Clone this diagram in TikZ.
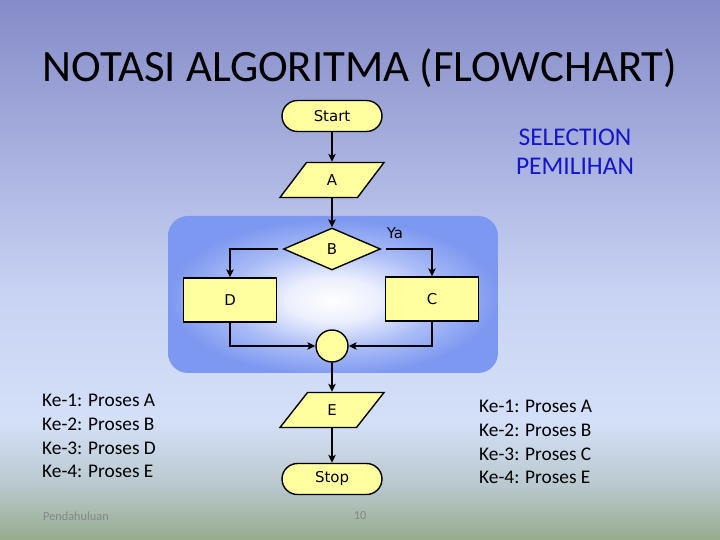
\documentclass[tikz,border=0pt]{standalone}
\usepackage{fontspec}
\setmainfont{Carlito}
\newfontfamily\chartfont{DejaVu Sans}
\usetikzlibrary{arrows.meta,shapes.geometric,shapes.misc}
\definecolor{bgtop}{RGB}{133,139,200}
\definecolor{bgmid}{RGB}{200,210,243}
\definecolor{bglow}{RGB}{212,224,248}
\definecolor{bgfade}{RGB}{185,200,205}
\definecolor{bgbot}{RGB}{150,172,140}
\definecolor{regionblue}{RGB}{125,152,240}
\definecolor{regionmid}{RGB}{200,212,252}
\definecolor{boxyellow}{RGB}{255,255,160}
\definecolor{selblue}{RGB}{20,20,200}
\definecolor{footgray}{RGB}{130,135,135}
\pgfdeclareverticalshading{slidebg}{100bp}{color(0bp)=(bgbot); color(25bp)=(bgbot); color(30bp)=(bgfade); color(36bp)=(bglow); color(48bp)=(bgmid); color(75bp)=(bgtop); color(100bp)=(bgtop)}
\pgfdeclareradialshading{regionglow}{\pgfpoint{0bp}{-2bp}}{color(0bp)=(white); color(7bp)=(white!85!regionblue); color(16bp)=(regionmid!60!regionblue); color(25bp)=(regionblue); color(50bp)=(regionblue)}

\begin{document}
\begin{tikzpicture}[
  x=0.02cm,y=-0.02cm,
  chartnode/.style={draw=black,line width=0.8pt,fill=boxyellow,inner sep=0pt,
               font=\chartfont\fontsize{8.5}{10}\selectfont},
  terminal/.style={chartnode,rounded rectangle,minimum width=2cm,minimum height=0.62cm},
  io/.style={chartnode,trapezium,trapezium left angle=64,trapezium right angle=116,
               trapezium stretches=true,minimum width=2.08cm,minimum height=0.7cm},
  decision/.style={chartnode,diamond,minimum width=1.94cm,minimum height=0.84cm},
  process/.style={chartnode,rectangle,minimum width=1.86cm,minimum height=0.88cm},
  joint/.style={chartnode,circle,minimum size=0.64cm},
  chartlabel/.style={font=\chartfont\fontsize{8.5}{10}\selectfont},
  titletext/.style={font=\fontsize{25.5}{30}\selectfont},
  seltext/.style={align=center,text=selblue,font=\fontsize{14.5}{16.6}\selectfont},
  listtext/.style={align=left,font=\fontsize{11}{13.6}\selectfont},
  footer/.style={text=footgray,font=\fontsize{7}{8}\selectfont},
  arr/.style={-{Stealth[length=4.5pt,width=4.2pt,inset=1pt]},line width=0.9pt}
]
% slide background
\shade[shading=slidebg] (0,0) rectangle (720,540);
\useasboundingbox (0,0) rectangle (720,540);
\shade[shading=regionglow,rounded corners=0.4cm] (168,216) rectangle (498,373);

\node[titletext] (title) at (360,68) {NOTASI ALGORITMA (FLOWCHART)};
\node[seltext] (sel) at (575,152) {SELECTION\\PEMILIHAN};

% flowchart
\node[terminal] (start) at (332,116) {Start};
\node[io] (a) at (332,180) {A};
\node[decision] (b) at (332,249) {B};
\node[process] (d) at (230,300) {D};
\node[process] (c) at (432,299) {C};
\node[joint] (j) at (332,346) {};
\node[io] (e) at (332,410) {E};
\node[terminal] (stop) at (332,479) {Stop};
\node[chartlabel] (ya) at (395,233) {Ya};

\draw[arr] (start) -- (a);
\draw[arr] (a) -- (b);
\draw[arr,shorten <=3pt] (b.west) -| (d.north);
\draw[arr,shorten <=3pt] (b.east) -| (c.north);
\draw[arr] (d.south) |- (j.west);
\draw[arr] (c.south) |- (j.east);
\draw[arr] (j) -- (e);
\draw[arr] (e) -- (stop);

% the two orders
\node[listtext,anchor=west] (left) at (36,436) {Ke-1: Proses A\\Ke-2: Proses B\\Ke-3: Proses D\\Ke-4: Proses E};
\node[listtext,anchor=west] (right) at (473,442) {Ke-1: Proses A\\Ke-2: Proses B\\Ke-3: Proses C\\Ke-4: Proses E};

\node[footer] (pend) at (76,516) {Pendahuluan};
\node[footer] (pnum) at (360,516) {10};
\end{tikzpicture}
\end{document}
